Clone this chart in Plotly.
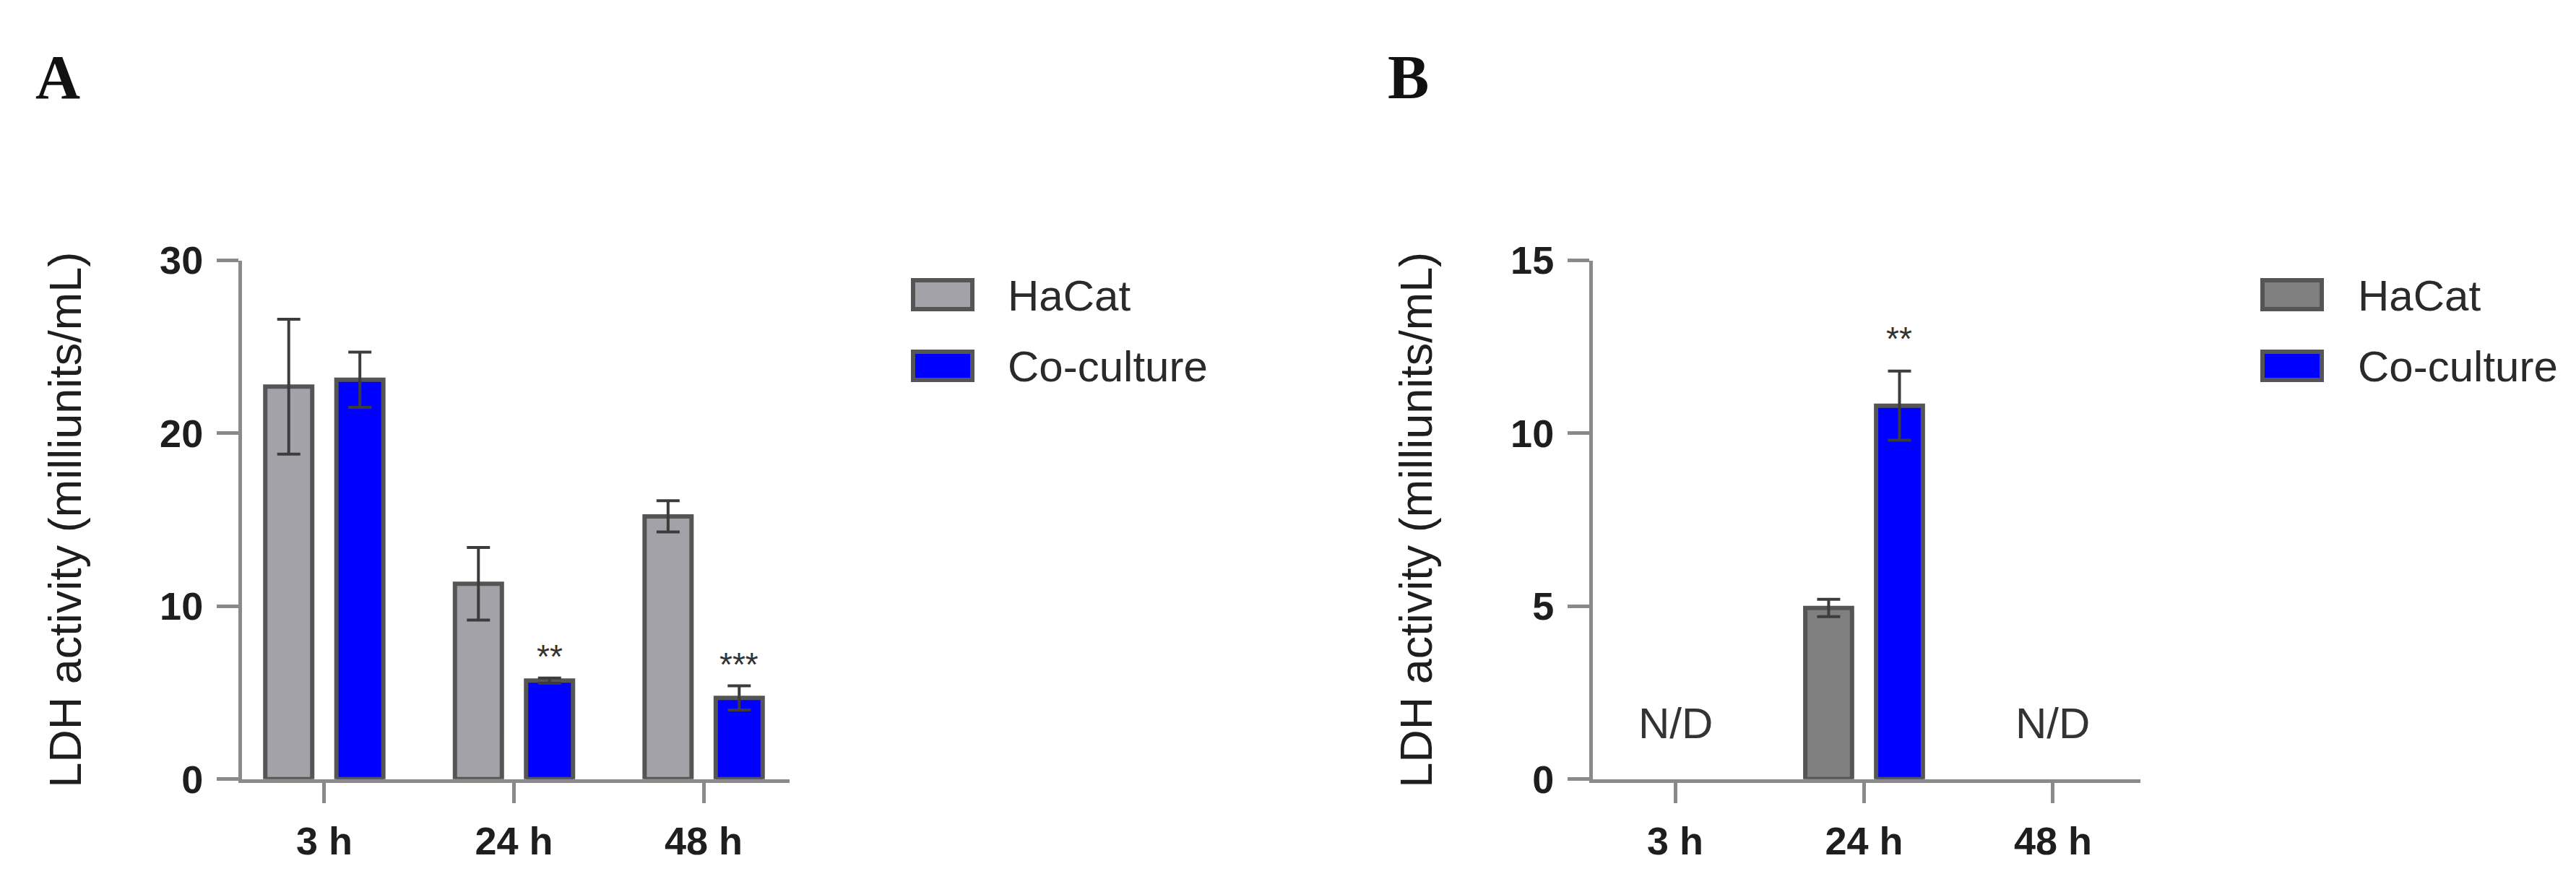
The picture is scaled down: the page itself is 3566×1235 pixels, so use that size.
import plotly.graph_objects as go

# ---------------- data ----------------
categories = ["3 h", "24 h", "48 h"]
series_names = ["HaCat", "Co-culture"]

a_hacat = [22.7, 11.3, 15.2]
a_hacat_err = [3.9, 2.1, 0.9]
a_cocult = [23.1, 5.7, 4.7]
a_cocult_err = [1.6, 0.15, 0.7]
a_sig = ["", "**", "***"]

b_hacat = [None, 4.95, None]
b_hacat_err = [None, 0.25, None]
b_cocult = [None, 10.8, None]
b_cocult_err = [None, 1.0, None]
b_sig = ["", "**", ""]
b_nd = ["N/D", "", "N/D"]

a_yticks = [0, 10, 20, 30]
b_yticks = [0, 5, 10, 15]
y_title = "LDH activity (milliunits/mL)"
panel_labels = ["A", "B"]

# ---------------- style ----------------
W, H = 3566, 1235
FONT = "Arial, Liberation Sans, sans-serif"
AXIS_COL = "#8a8a8a"
TXT_COL = "#1e1e1e"
BLUE = "#0000FF"
GRAY_A = "#a2a2a8"
GRAY_B = "#808080"
OUTLINE = "#555555"
BARGAP, GROUPGAP = 0.25, 0.34

# pixel geometry -> paper fractions
ax_a = (327, 1085)
ax_b = (2197, 2955)
y_px = (339, 1094)  # top, bottom
xr_a = [-0.434, 2.453]
xr_b = [-0.436, 2.463]

def px2paper_x(p):
    return p / W

def px2paper_y(p):
    return 1 - p / H

fig = go.Figure()

def add_bars(xaxis, yaxis, vals, errs, color, name):
    fig.add_trace(go.Bar(
        x=categories, y=vals, name=name, xaxis=xaxis, yaxis=yaxis,
        marker=dict(color=color, line=dict(color=OUTLINE, width=6)),
        error_y=dict(type="data", array=errs, visible=True,
                     color="#3c3c3c", thickness=4, width=16),
        showlegend=False,
    ))

add_bars("x", "y", a_hacat, a_hacat_err, GRAY_A, series_names[0])
add_bars("x", "y", a_cocult, a_cocult_err, BLUE, series_names[1])
add_bars("x2", "y2", b_hacat, b_hacat_err, GRAY_B, series_names[0])
add_bars("x2", "y2", b_cocult, b_cocult_err, BLUE, series_names[1])

tickfont = dict(family=FONT, size=54, color=TXT_COL, weight="bold")

def xaxis_cfg(dom, rng, anchor):
    return dict(domain=[px2paper_x(dom[0]), px2paper_x(dom[1])], range=rng,
                anchor=anchor, type="category", showline=True, linecolor=AXIS_COL,
                linewidth=5, ticks="outside", ticklen=28, tickwidth=5,
                tickcolor=AXIS_COL, tickfont=tickfont, showgrid=False, zeroline=False,
                ticklabelstandoff=6, fixedrange=True)

def yaxis_cfg(anchor, rng, tv, standoff):
    return dict(domain=[px2paper_y(y_px[1]), px2paper_y(y_px[0])], range=rng,
                anchor=anchor, tickvals=tv, showline=True, linecolor=AXIS_COL,
                linewidth=5, ticks="outside", ticklen=30, tickwidth=5,
                tickcolor=AXIS_COL, tickfont=tickfont, showgrid=False,
                zeroline=False, ticklabelstandoff=8, fixedrange=True,
                title=dict(text=y_title, font=dict(family=FONT, size=63, color=TXT_COL),
                           standoff=standoff))

fig.update_layout(
    width=W, height=H, margin=dict(l=0, r=0, t=0, b=0),
    paper_bgcolor="white", plot_bgcolor="white",
    barmode="group", bargap=BARGAP, bargroupgap=GROUPGAP,
    font=dict(family=FONT, color=TXT_COL),
    xaxis=xaxis_cfg(ax_a, xr_a, "y"), yaxis=yaxis_cfg("x", [0, 30], a_yticks, 90),
    xaxis2=xaxis_cfg(ax_b, xr_b, "y2"), yaxis2=yaxis_cfg("x2", [0, 15], b_yticks, 90),
)

# significance stars above co-culture bars
def bar_shift(dom, rng):
    ppu = (dom[1] - dom[0]) / (rng[1] - rng[0])
    return (1 - BARGAP) / 4 * ppu

annotations = []
sa = bar_shift(ax_a, xr_a)
for c, v, e, s in zip(categories, a_cocult, a_cocult_err, a_sig):
    if s:
        annotations.append(dict(x=c, y=v + e, xref="x", yref="y", text=s, showarrow=False,
                                xshift=sa, yshift=30, yanchor="middle",
                                font=dict(family=FONT, size=46, color="#333333")))
sb = bar_shift(ax_b, xr_b)
for c, v, e, s in zip(categories, b_cocult, b_cocult_err, b_sig):
    if s:
        annotations.append(dict(x=c, y=v + e, xref="x2", yref="y2", text=s, showarrow=False,
                                xshift=sb, yshift=45, yanchor="middle",
                                font=dict(family=FONT, size=46, color="#333333")))
for c, t in zip(categories, b_nd):
    if t:
        annotations.append(dict(x=c, y=0, xref="x2", yref="y2", text=t, showarrow=False,
                                yshift=77, yanchor="middle",
                                font=dict(family=FONT, size=60, color="#333333")))

# panel labels
for lab, cx in zip(panel_labels, [72, 1941]):
    annotations.append(dict(x=px2paper_x(cx), y=px2paper_y(72), xref="paper", yref="paper",
                            text=lab, showarrow=False, xanchor="center", yanchor="middle",
                            font=dict(family="Liberation Serif, Times New Roman, serif",
                                      size=86, color="#111111", weight="bold")))

# manual legends (large swatches)
shapes = []
legend_rows = [(390, 368, 410), (493, 472, 513)]
for sw_x, txt_x, fills in [((1256, 1338), 1385, [GRAY_A, BLUE]),
                           ((3124, 3206), 3254, [GRAY_B, BLUE])]:
    for (cy, y0, y1), name, fill in zip(legend_rows, series_names, fills):
        shapes.append(dict(type="rect", xref="paper", yref="paper",
                           x0=px2paper_x(sw_x[0]), x1=px2paper_x(sw_x[1]),
                           y0=px2paper_y(y1), y1=px2paper_y(y0),
                           fillcolor=fill, line=dict(color=OUTLINE, width=6)))
        annotations.append(dict(x=px2paper_x(txt_x), y=px2paper_y(cy), xref="paper", yref="paper",
                                text=name, showarrow=False, xanchor="left", yanchor="middle",
                                font=dict(family=FONT, size=60, color="#2a2a2a")))

fig.update_layout(annotations=annotations, shapes=shapes)
fig.write_html("out.html")
